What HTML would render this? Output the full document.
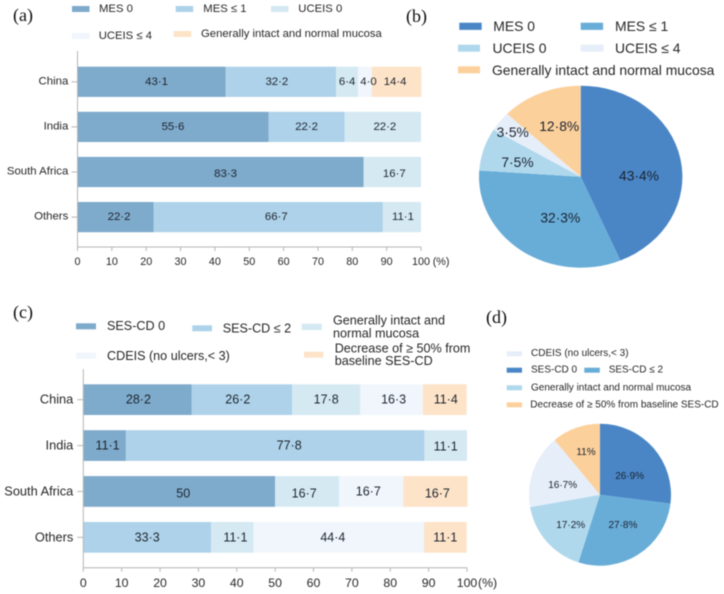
<!DOCTYPE html>
<html lang="en">
<head>
<meta charset="utf-8">
<title>Mucosal healing charts</title>
<style>
html,body{margin:0;padding:0;background:#fff;width:724px;height:594px;overflow:hidden}
svg{display:block;filter:blur(0.4px);font-family:"Liberation Sans",sans-serif;fill:#262626}
text{dominant-baseline:central}
.panel{font-family:"Liberation Serif",serif;font-size:18px;fill:#111;dominant-baseline:auto}
.la{font-size:11.3px}.lb{font-size:13.9px}.lc{font-size:12.6px}.ld{font-size:10px}
</style>
</head>
<body>
<svg id="root" xmlns="http://www.w3.org/2000/svg" width="724" height="594" viewBox="0 0 724 594">
  <text class="panel" x="13" y="21">(a)</text>
  <text class="panel" x="406" y="22">(b)</text>
  <text class="panel" x="13" y="318">(c)</text>
  <text class="panel" x="486" y="323">(d)</text>

  <g class="la">
    <g><rect x="72" y="6" width="17.5" height="6" fill="#7eaacb"/><text x="99" y="9">MES 0</text></g>
    <g><rect x="175.7" y="6" width="17.5" height="6" fill="#aed2e9"/><text x="203.3" y="9">MES ≤ 1</text></g>
    <g><rect x="271" y="6" width="17.5" height="6" fill="#d5e9f3"/><text x="298.3" y="9">UCEIS 0</text></g>
    <g><rect x="72" y="33" width="17.5" height="6" fill="#f0f6fb"/><text x="98.7" y="36">UCEIS ≤ 4</text></g>
    <g><rect x="173.7" y="31" width="17.5" height="6" fill="#fde3c8"/><text x="201" y="34">Generally intact and normal mucosa</text></g>
  </g>

  <g class="lb">
    <g><rect x="459.3" y="22.7" width="22.4" height="7.2" fill="#4a86c6"/><text x="493.3" y="26">MES 0</text></g>
    <g><rect x="580.7" y="22.7" width="22.4" height="7.2" fill="#68add8"/><text x="615" y="26">MES ≤ 1</text></g>
    <g><rect x="458" y="44.7" width="22" height="7" fill="#b0d8ec"/><text x="492.5" y="48">UCEIS 0</text></g>
    <g><rect x="580.7" y="44.7" width="23" height="7" fill="#e6eef9"/><text x="615" y="48">UCEIS ≤ 4</text></g>
    <g><rect x="458" y="66.3" width="22" height="7" fill="#fcd09b"/><text x="492" y="70">Generally intact and normal mucosa</text></g>
  </g>

  <g class="lc">
    <g><rect x="76" y="323.3" width="20" height="6" fill="#7eaacb"/><text x="107" y="326">SES-CD 0</text></g>
    <g><rect x="192.3" y="325.3" width="19.7" height="6" fill="#aed2e9"/><text x="222.7" y="328.3">SES-CD ≤ 2</text></g>
    <g><rect x="301.7" y="323.7" width="20" height="6.3" fill="#d5e9f3"/><text x="333" y="320.3">Generally intact and</text><text x="333" y="333.3">normal mucosa</text></g>
    <g><rect x="76" y="352.7" width="20" height="6" fill="#f0f6fb"/><text x="107" y="356">CDEIS (no ulcers,&lt; 3)</text></g>
    <g><rect x="304" y="351.7" width="19.3" height="6" fill="#fde3c8"/><text x="334.7" y="348.3">Decrease of ≥ 50% from</text><text x="334.7" y="361">baseline SES-CD</text></g>
  </g>

  <g class="ld">
    <g><rect x="506.7" y="351.3" width="15.3" height="5" fill="#e6eef9"/><text x="531" y="353.7">CDEIS (no ulcers,&lt; 3)</text></g>
    <g><rect x="506.7" y="367.7" width="15.3" height="5" fill="#4a86c6"/><text x="531" y="370">SES-CD  0</text></g>
    <g><rect x="584.3" y="367.7" width="15.5" height="5" fill="#68add8"/><text x="608.7" y="370">SES-CD ≤ 2</text></g>
    <g><rect x="506.7" y="385.3" width="15.3" height="5" fill="#b0d8ec"/><text x="531" y="388">Generally intact and normal mucosa</text></g>
    <g><rect x="506.7" y="402.3" width="15.3" height="5" fill="#fcd09b"/><text x="530.3" y="405">Decrease of ≥ 50% from baseline SES-CD</text></g>
  </g>
</svg>
<script>
// ---- chart data ----
var categories = ['China', 'India', 'South Africa', 'Others'];
var xTicks = [0, 10, 20, 30, 40, 50, 60, 70, 80, 90, 100];

var mes0 = [43.1, 55.6, 83.3, 22.2];
var mes1 = [32.2, 22.2, 0, 66.7];
var uceis0 = [6.4, 22.2, 16.7, 11.1];
var uceis4 = [4.0, 0, 0, 0];
var normalA = [14.4, 0, 0, 0];

var ses0 = [28.2, 11.1, 50, 0];
var ses2 = [26.2, 77.8, 0, 33.3];
var normalC = [17.8, 11.1, 16.7, 11.1];
var cdeis = [16.3, 0, 16.7, 44.4];
var decrease = [11.4, 0, 16.7, 11.1];

var pieBValues = [43.4, 32.3, 7.5, 3.5, 12.8];
var pieDValues = [26.9, 27.8, 17.2, 16.7, 11];

// ---- styling and layout ----
var barColors = ['#7eaacb', '#aed2e9', '#d5e9f3', '#f0f6fb', '#fde3c8'];
var pieColors = ['#4a86c6', '#68add8', '#b0d8ec', '#e6eef9', '#fcd09b'];
var SVGNS = 'http://www.w3.org/2000/svg';
var root = document.getElementById('root');

function mk(parent, tag, attrs, txt) {
  var el = document.createElementNS(SVGNS, tag);
  for (var k in attrs) { el.setAttribute(k, attrs[k]); }
  if (txt !== undefined) { el.textContent = txt; }
  parent.appendChild(el);
  return el;
}
function fmt(v, fixed) {
  var s = fixed && v % 1 === 0 ? v.toFixed(1) : String(v);
  return s.replace('.', '·');
}

function drawBars(cfg) {
  var g = mk(root, 'g', {});
  
  
  function sx(v) { return cfg.x0 + v * (cfg.x100 - cfg.x0) / 100; }
  function rowTop(i) { return cfg.top + i * cfg.step; }

  // segments first, so that value labels are painted above every segment
  cfg.categories.forEach(function (cat, i) {
    var acc = 0;
    cfg.series.forEach(function (values, s) {
      var v = values[i];
      if (!v) { return; }
      var seg = mk(g, 'rect', { x: sx(acc), y: rowTop(i), width: sx(acc + v) - sx(acc), height: cfg.barH, fill: barColors[s] });
      
      
      acc += v;
    });
  });

  cfg.categories.forEach(function (cat, i) {
    var acc = 0;
    cfg.series.forEach(function (values, s) {
      var v = values[i];
      if (!v) { return; }
      var n = cfg.nudge[i + '-' + s] || [0, 0];
      var label = mk(g, 'text', { x: sx(acc + v / 2) + n[0], y: rowTop(i) + cfg.barH / 2 + n[1], 'text-anchor': 'middle', 'font-size': cfg.valueSize, fill: '#1d2530' }, fmt(v, i === 0 && s === 3));
      
      
      acc += v;
    });
    var tk = mk(g, 'line', { x1: cfg.x0 - 6, x2: cfg.x0, y1: rowTop(i) + cfg.barH / 2, y2: rowTop(i) + cfg.barH / 2, stroke: '#b5b5b5', 'stroke-width': 1 });
    
    
    var cl = mk(g, 'text', { x: cfg.x0 - cfg.catGap, y: rowTop(i) + cfg.barH / 2 - 0.5, 'text-anchor': 'end', 'font-size': cfg.catSize }, cat);
    
    
  });

  var ya = mk(g, 'line', { x1: cfg.x0, x2: cfg.x0, y1: cfg.axisTop, y2: cfg.axisY + 0.5, stroke: '#b5b5b5', 'stroke-width': 1 });
  
  
  var xa = mk(g, 'line', { x1: cfg.x0, x2: cfg.x100, y1: cfg.axisY, y2: cfg.axisY, stroke: '#b5b5b5', 'stroke-width': 1 });
  
  

  xTicks.forEach(function (t) {
    var m = mk(g, 'line', { x1: sx(t), x2: sx(t), y1: cfg.axisY, y2: cfg.axisY + 4, stroke: '#b5b5b5', 'stroke-width': 1 });
    
    
    var tl = mk(g, 'text', { x: sx(t), y: cfg.tickY, 'text-anchor': 'middle', 'font-size': cfg.tickSize }, String(t));
    
    
  });
  var unit = mk(g, 'text', { x: cfg.unitX, y: cfg.tickY, 'font-size': cfg.tickSize }, '(%)');
  
  
}

function drawPie(cfg) {
  var g = mk(root, 'g', {});
  
  
  var total = cfg.values.reduce(function (a, b) { return a + b; }, 0);
  function pt(angle, f) {
    return [cfg.cx + Math.sin(angle) * cfg.rx * f, cfg.cy - Math.cos(angle) * cfg.ry * f];
  }
  var acc = 0;
  cfg.values.forEach(function (v, i) {
    var a0 = acc / total * 2 * Math.PI;
    var a1 = (acc + v) / total * 2 * Math.PI;
    var p0 = pt(a0, 1), p1 = pt(a1, 1);
    var large = a1 - a0 > Math.PI ? 1 : 0;
    var d = 'M' + cfg.cx + ' ' + cfg.cy + 'L' + p0[0] + ' ' + p0[1] + 'A' + cfg.rx + ' ' + cfg.ry + ' 0 ' + large + ' 1 ' + p1[0] + ' ' + p1[1] + 'Z';
    var slice = mk(g, 'path', { d: d, fill: pieColors[cfg.colorOrder[i]] });
    
    
    acc += v;
  });
  acc = 0;
  cfg.values.forEach(function (v, i) {
    var mid = (acc + v / 2) / total * 2 * Math.PI;
    var p = pt(mid, 0.6);
    var n = cfg.nudge[i] || [0, 0];
    var label = mk(g, 'text', { x: p[0] + n[0], y: p[1] + n[1], 'text-anchor': 'middle', 'font-size': cfg.fontSize, fill: '#1a2230' }, fmt(v) + '%');
    
    
    acc += v;
  });
}

drawBars({
  name: 'chart-a-stacked-bars', categories: categories,
  series: [mes0, mes1, uceis0, uceis4, normalA],
  x0: 77.5, x100: 421, top: 66.7, step: 45.1, barH: 30.2,
  axisTop: 51, axisY: 247, tickY: 262, unitX: 432.7,
  valueSize: 11.4, catSize: 11.4, tickSize: 10.8, catGap: 9.2,
  nudge: { '0-0': [5, 0], '0-1': [-4, 0], '0-3': [3.5, 0], '0-4': [-1.5, 0], '1-2': [2, 0], '2-0': [5, 2], '2-2': [2, 2], '3-0': [3.4, 0], '3-1': [8, 0], '3-2': [1, 0] }
});
drawBars({
  name: 'chart-c-stacked-bars', categories: categories,
  series: [ses0, ses2, normalC, cdeis, decrease],
  x0: 83.3, x100: 467, top: 384.3, step: 45.9, barH: 30.7,
  axisTop: 369, axisY: 567.7, tickY: 583, unitX: 478,
  valueSize: 12.5, catSize: 12.8, tickSize: 12.3, catGap: 10,
  nudge: { '0-0': [1, 0], '0-1': [-4, 0], '0-3': [2, 0], '0-4': [1, 0], '1-0': [3, 0], '1-1': [14, 0], '1-2': [0, 1], '2-0': [4, 2], '2-2': [-3, 2], '2-3': [-3, 0], '2-4': [2, 2], '3-2': [3, 0], '3-3': [-6, 0] }
});
drawPie({
  name: 'chart-b-pie', values: pieBValues, colorOrder: [0, 1, 2, 3, 4],
  cx: 580.7, cy: 176.7, rx: 101.7, ry: 91, fontSize: 13.8,
  nudge: [[-1.5, 10], [15, -3.4], [-5, 2.4], [-19.5, -11], [2.5, 0]]
});
drawPie({
  name: 'chart-d-pie', values: pieDValues, colorOrder: [0, 1, 2, 3, 4],
  cx: 600, cy: 494.7, rx: 71, ry: 71, fontSize: 10,
  nudge: [[-2.3, 9.8], [0, -4.9], [2.8, 2.9], [2.7, 5.2], [0.5, -1.9]]
});
</script>
</body>
</html>
